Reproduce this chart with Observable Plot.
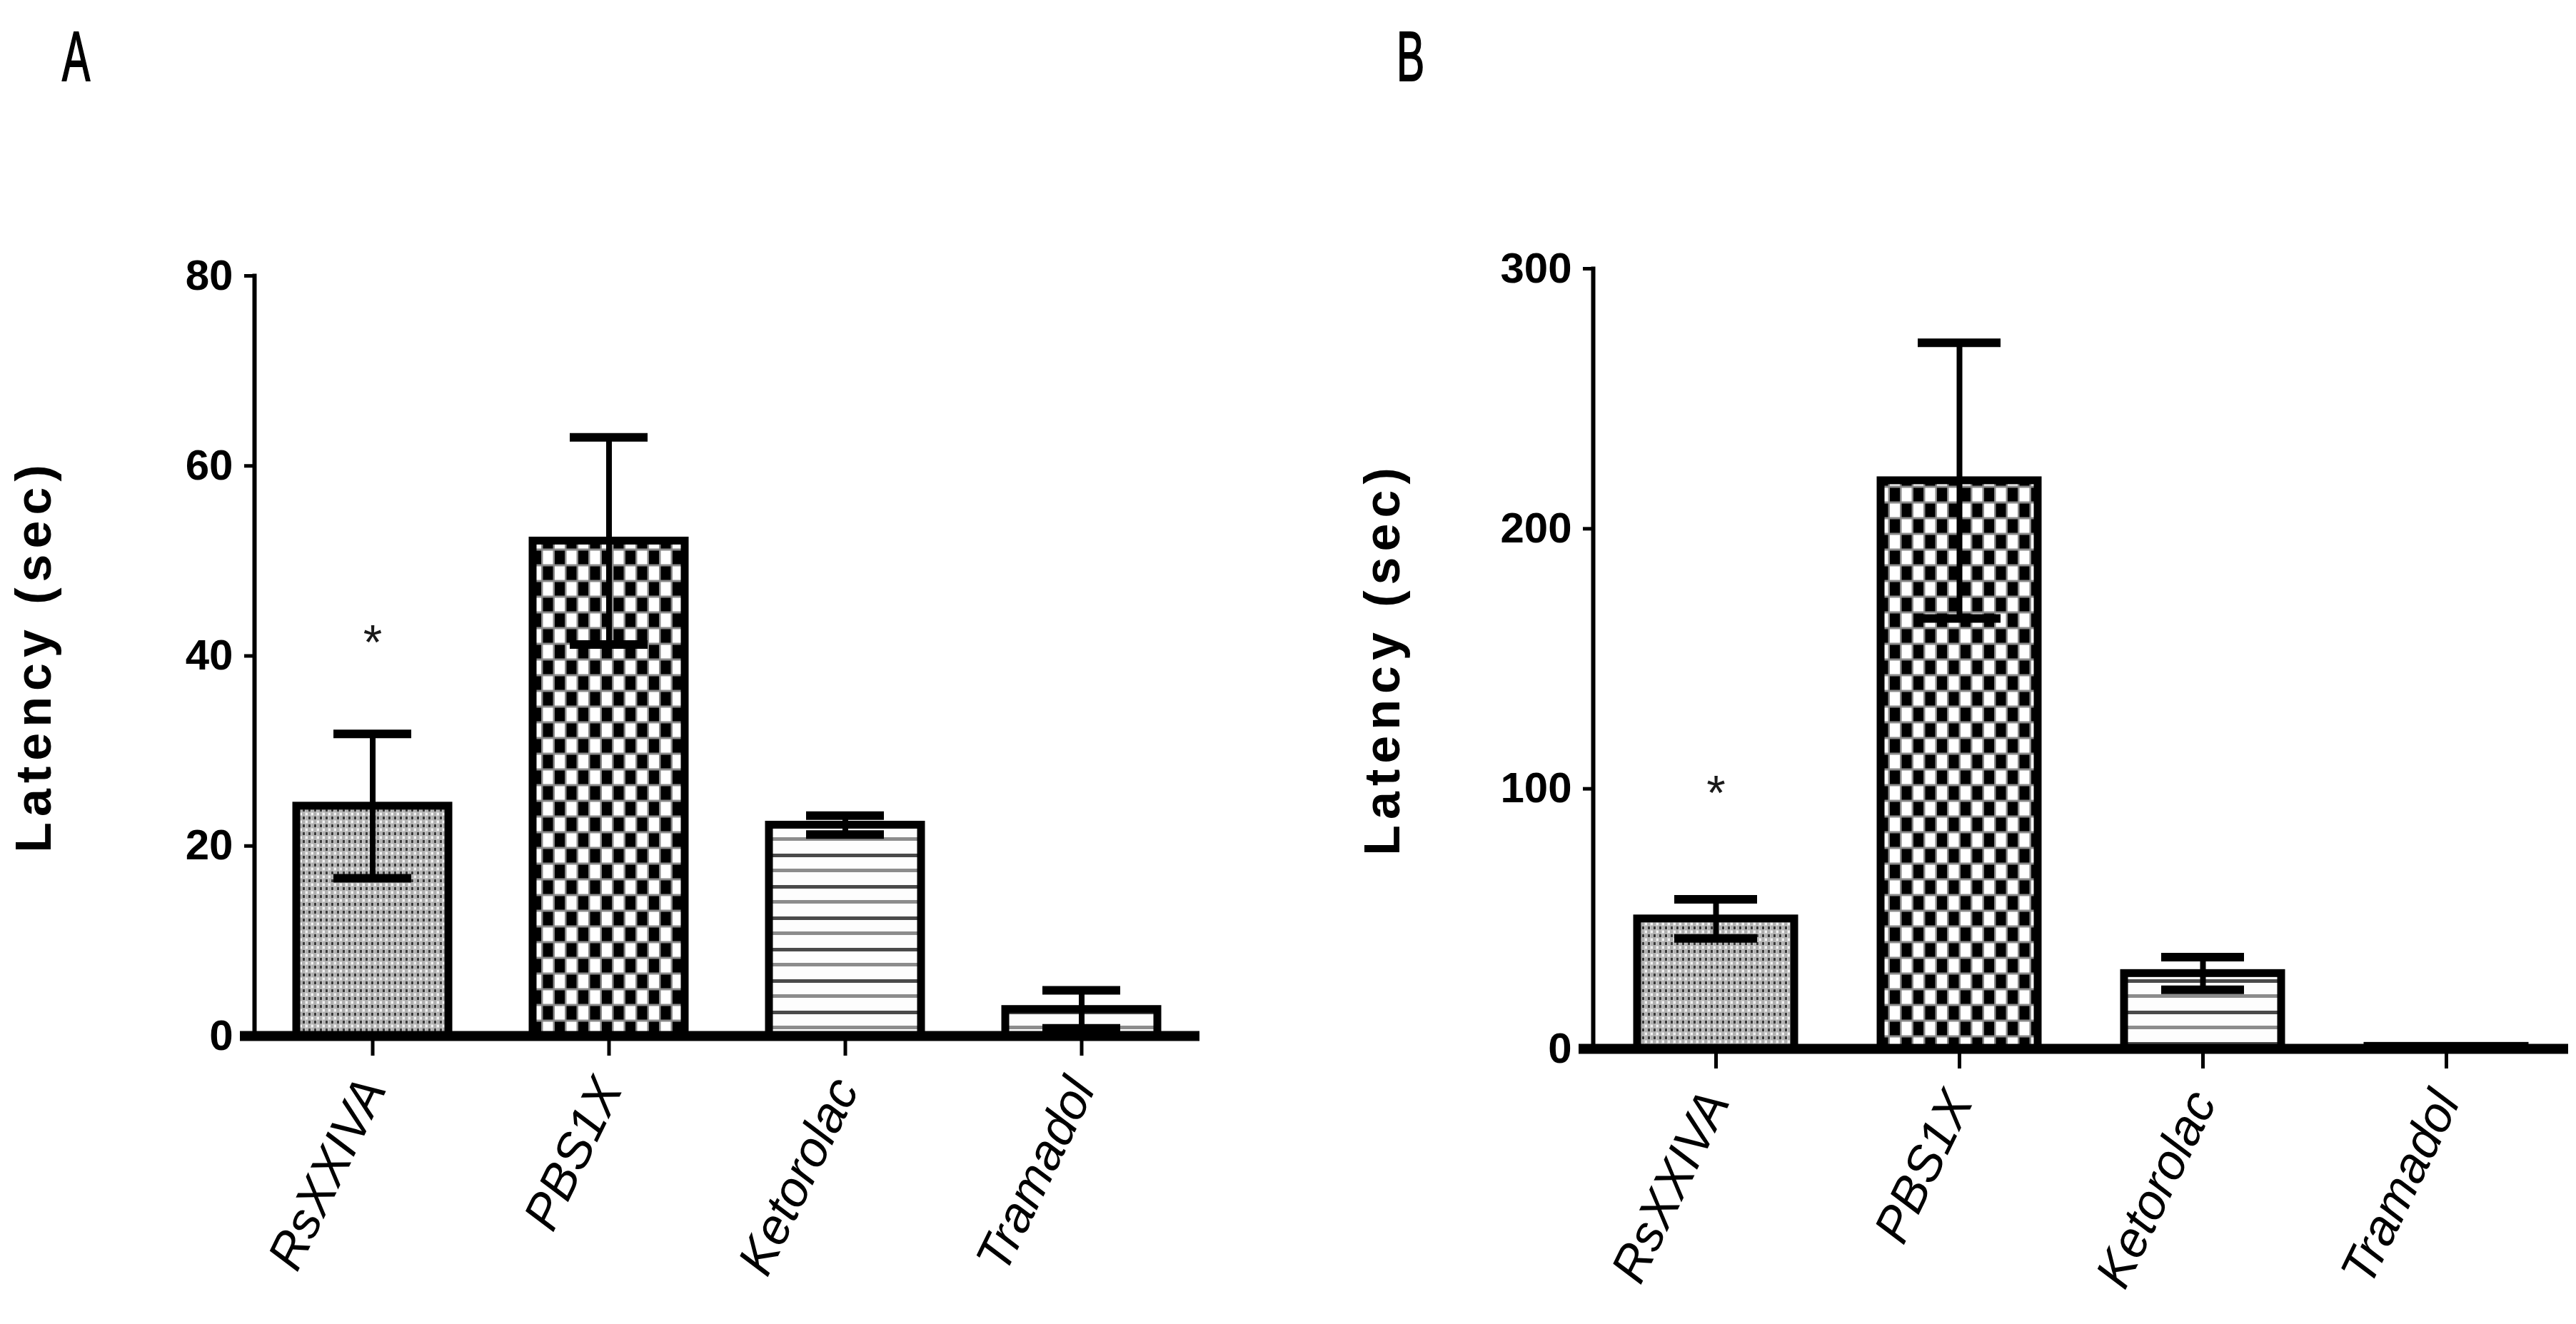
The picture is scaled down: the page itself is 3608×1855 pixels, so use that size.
<!DOCTYPE html>
<html>
<head>
<meta charset="utf-8">
<script src="https://cdn.jsdelivr.net/npm/d3@7"></script>
<script src="https://cdn.jsdelivr.net/npm/@observablehq/plot@0.6"></script>
<style>
  html, body { margin: 0; padding: 0; background: #fff; }
  #wrap { position: relative; width: 3608px; height: 1855px; overflow: hidden; background: #fff;
          font-family: "Liberation Sans", Arial, sans-serif; }
  .panel { position: absolute; top: 0; width: 1804px; height: 1855px; }
  .panel svg { overflow: visible; }
  .tag { position: absolute; font-size: 98px; line-height: 1; color: #000; font-weight: normal;
         font-family: "Liberation Sans", Arial, sans-serif; transform: scaleX(0.6); transform-origin: 0 0;
         -webkit-text-stroke: 2px #000; }
</style>
</head>
<body>
<div id="wrap">
  <svg width="0" height="0" style="position:absolute">
    <defs>
      <pattern id="patDots" patternUnits="userSpaceOnUse" width="8" height="11">
        <rect width="8" height="11" fill="#b0b0b0"/>
        <rect x="0" y="0" width="3" height="4" fill="#383838"/>
        <rect x="4" y="5.5" width="3" height="4" fill="#f2f2f2"/>
        <rect x="3" y="0" width="1" height="11" fill="#cfcfcf"/>
      </pattern>
      <pattern id="patChecker" patternUnits="userSpaceOnUse" width="33" height="44">
        <rect width="33" height="44" fill="#8a8a8a"/>
        <rect x="1.5" y="1.5" width="14" height="19" fill="#000"/>
        <rect x="18" y="1.5" width="14" height="19" fill="#fff"/>
        <rect x="1.5" y="23.5" width="14" height="19" fill="#fff"/>
        <rect x="18" y="23.5" width="14" height="19" fill="#000"/>
      </pattern>
      <pattern id="patStripes" patternUnits="userSpaceOnUse" width="20" height="44">
        <rect width="20" height="44" fill="#fdfdfd"/>
        <rect x="0" y="8" width="20" height="5" fill="#4a4a4a"/>
        <rect x="0" y="29" width="20" height="5" fill="#8c8c8c"/>
      </pattern>
    </defs>
  </svg>
  <div class="tag" style="left:87px; top:30px;">A</div>
  <div class="tag" style="left:1956px; top:30px;">B</div>
  <div id="panelA" class="panel" style="left:0px;"></div>
  <div id="panelB" class="panel" style="left:1804px;"></div>
</div>
<script>
// ---- data ----
const categories = ["RsXXIVA", "PBS1X", "Ketorolac", "Tramadol"];
const latencyA = [24.2, 52.1, 22.2, 2.8];
const semA     = [7.6, 10.9, 1.0, 2.0];
const latencyB = [50, 218.5, 29, 1.0];
const semB     = [7.5, 53, 6.3, 0];
const ticksA = [0, 20, 40, 60, 80];
const ticksB = [0, 100, 200, 300];
const starCategory = "RsXXIVA";
const starA = 42.6;
const starB = 102.6;
const yLabel = "Latency (sec)";

// ---- styling ----
const fills = {
  "RsXXIVA": "url(#patDots)",
  "PBS1X": "url(#patChecker)",
  "Ketorolac": "url(#patStripes)",
  "Tramadol": "url(#patStripes)"
};

function panel({values, errors, ticks, star, marginLeft, marginRight, marginTop, marginBottom, labelDx}) {
  const rows = categories.map((c, i) => ({category: c, value: values[i], err: errors[i]}));
  const withErr = rows.filter(d => d.err > 0);
  const starRows = [{category: starCategory, value: star}];
  const plot = Plot.plot({
    width: 1804, height: 1855,
    marginLeft, marginRight, marginTop, marginBottom,
    style: {fontFamily: "'Liberation Sans', Arial, sans-serif", background: "transparent", color: "#000"},
    x: {type: "band", domain: categories, paddingInner: 0.355, paddingOuter: 0.175},
    y: {domain: [ticks[0], ticks[ticks.length - 1]]},
    color: {type: "identity"},
    marks: [
      Plot.barY(rows, {x: "category", y: "value", fill: d => fills[d.category], stroke: "#000", strokeWidth: 11}),
      Plot.ruleX(withErr, {x: "category", y1: d => d.value - d.err, y2: d => d.value + d.err, stroke: "#000", strokeWidth: 8}),
      Plot.tickY(withErr, {x: "category", y: d => d.value + d.err, stroke: "#000", strokeWidth: 12, insetLeft: 52, insetRight: 52}),
      Plot.tickY(withErr, {x: "category", y: d => d.value - d.err, stroke: "#000", strokeWidth: 12, insetLeft: 52, insetRight: 52}),
      Plot.ruleY([0], {stroke: "#000", strokeWidth: 14, insetLeft: -20}),
      Plot.frame({anchor: "left", stroke: "#000", strokeWidth: 6}),
      Plot.axisY(ticks, {tickSize: 14, tickPadding: 16, strokeWidth: 5, fontSize: 60, fontWeight: "bold",
        fontFamily: "'Liberation Sans Narrow', 'Liberation Sans', Arial, sans-serif", label: null}),
      Plot.axisX({tickSize: 28, tickPadding: 36, strokeWidth: 5, tickRotate: -64, fontSize: 70,
        fontStyle: "italic", label: null}),
      Plot.text([yLabel], {frameAnchor: "left", textAnchor: "middle", dx: labelDx, rotate: -90, fontSize: 70,
        fontWeight: "bold", fill: "#000", fontFamily: "'Liberation Sans', Arial, sans-serif"}),
      Plot.text(starRows, {x: "category", y: "value", text: () => "*", fontSize: 68, dy: 17, fill: "#1a1a1a"})
    ]
  });
  plot.querySelectorAll("text").forEach(t => {
    if (t.textContent === yLabel) t.setAttribute("letter-spacing", "8");
  });
  return plot;
}

document.getElementById("panelA").appendChild(panel({
  values: latencyA, errors: semA, ticks: ticksA, star: starA,
  marginLeft: 356, marginRight: 124, marginTop: 386, marginBottom: 404, labelDx: -308
}));
document.getElementById("panelB").appendChild(panel({
  values: latencyB, errors: semB, ticks: ticksB, star: starB,
  marginLeft: 427, marginRight: 11, marginTop: 376, marginBottom: 386, labelDx: -294
}));
</script>
</body>
</html>
